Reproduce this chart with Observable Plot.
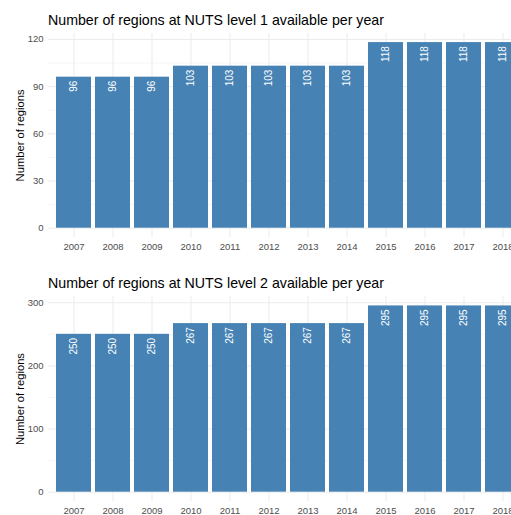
<!DOCTYPE html>
<html>
<head>
<meta charset="utf-8">
<script src="https://cdn.jsdelivr.net/npm/d3@7"></script>
<script src="https://cdn.jsdelivr.net/npm/@observablehq/plot@0.6"></script>
<style>
  html, body { margin: 0; padding: 0; background: #fff; }
  #wrap { position: relative; width: 511px; height: 515px; overflow: hidden; font-family: "Liberation Sans", Arial, sans-serif; }
  .title { position: absolute; left: 48px; font-size: 14.2px; line-height: 14px; color: #000; white-space: nowrap; }
  .panel { position: absolute; left: 0; }
  .panel svg { overflow: hidden; }
</style>
</head>
<body>
<div id="wrap">
  <div class="title" style="top:12.5px">Number of regions at NUTS level 1 available per year</div>
  <div class="panel" id="p1" style="top:30px"></div>
  <div class="title" style="top:276.3px">Number of regions at NUTS level 2 available per year</div>
  <div class="panel" id="p2" style="top:292px"></div>
</div>
<script>
const years = [2007, 2008, 2009, 2010, 2011, 2012, 2013, 2014, 2015, 2016, 2017, 2018];
const nuts1 = [96, 96, 96, 103, 103, 103, 103, 103, 118, 118, 118, 118];
const nuts2 = [250, 250, 250, 267, 267, 267, 267, 267, 295, 295, 295, 295];
const majorTicks1 = [0, 30, 60, 90, 120];
const minorTicks1 = [15, 45, 75, 105];
const majorTicks2 = [0, 100, 200, 300];
const minorTicks2 = [50, 150, 250];
const yLabel = "Number of regions";

function panel(values, majorT, minorT, maxV, dims) {
  const data = years.map((y, i) => ({year: String(y), n: values[i]}));
  const pad = maxV * 0.05;
  return Plot.plot({
    width: 511,
    height: dims.height,
    marginTop: dims.marginTop,
    marginBottom: dims.marginBottom,
    marginLeft: 48,
    marginRight: 0,
    style: {fontFamily: '"Liberation Sans", Arial, sans-serif', background: "white"},
    x: {type: "band", domain: years.map(String), range: [52, 524], paddingInner: 0.1, paddingOuter: 0.05, label: null},
    y: {domain: [-pad, maxV + pad], label: null},
    marks: [
      Plot.gridY(minorT, {stroke: "#ebebeb", strokeOpacity: 1, strokeWidth: 0.5}),
      Plot.gridY(majorT, {stroke: "#ebebeb", strokeOpacity: 1, strokeWidth: 1}),
      Plot.gridX({stroke: "#ebebeb", strokeOpacity: 1, strokeWidth: 1}),
      Plot.barY(data, {x: "year", y: "n", fill: "steelblue"}),
      Plot.text(data, {x: "year", y: "n", text: d => String(d.n), rotate: -90, textAnchor: "end", dy: 3.5, fill: "white", fontSize: 10}),
      Plot.axisY(majorT, {tickSize: 0, tickPadding: 5, fontSize: 9.5, color: "#4d4d4d", label: null}),
      Plot.axisX({tickSize: 0, tickPadding: 5.5, fontSize: 9.5, color: "#4d4d4d", label: null}),
      Plot.text([yLabel], {frameAnchor: "left", rotate: -90, dx: -28, fontSize: 11.2, fill: "#000", textAnchor: "middle"})
    ]
  });
}

document.getElementById("p1").appendChild(panel(nuts1, majorTicks1, minorTicks1, 118, {height: 230, marginTop: 2.8, marginBottom: 23}));
document.getElementById("p2").appendChild(panel(nuts2, majorTicks2, minorTicks2, 295, {height: 223, marginTop: 4.1, marginBottom: 14}));
</script>
</body>
</html>
